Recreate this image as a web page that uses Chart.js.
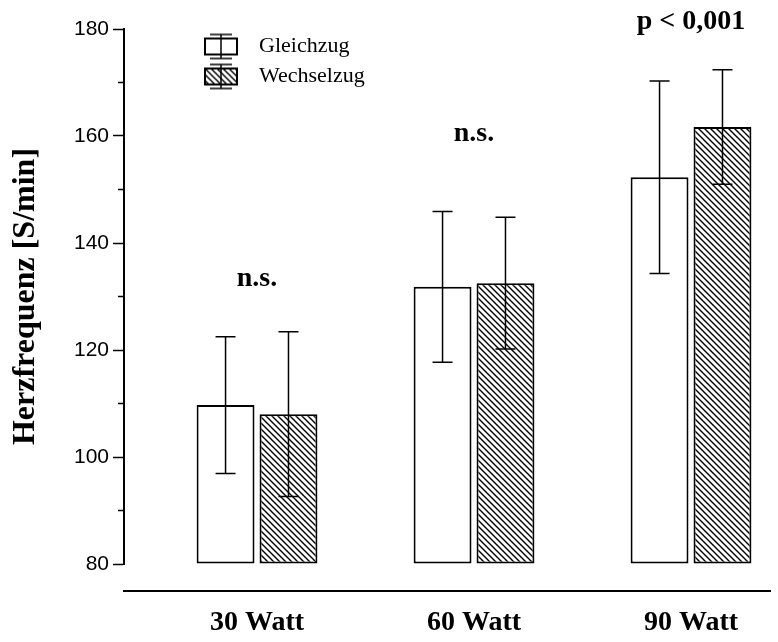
<!DOCTYPE html>
<html>
<head>
<meta charset="utf-8">
<script src="https://cdn.jsdelivr.net/npm/chart.js@4.4.1/dist/chart.umd.min.js"></script>
<style>
  html, body { margin: 0; padding: 0; background: #fff; }
</style>
</head>
<body>
<canvas id="hf" width="778" height="642"></canvas>
<script>
// --- data ---
const categories = ["30 Watt", "60 Watt", "90 Watt"];
const gleichMean = [109.7, 131.8, 152.3];
const gleichSd = [12.8, 14.1, 18.0];
const wechselMean = [108.0, 132.5, 161.7];
const wechselSd = [15.4, 12.3, 10.7];
const notes = ["n.s.", "n.s.", "p < 0,001"];
const noteLevels = [132, 159, 180]; // y value where each note sits
const yMin = 80, yMax = 180;

const serif = "'Liberation Serif', 'Times New Roman', serif";
const canvas = document.getElementById("hf");
const ctx = canvas.getContext("2d");

// diagonal hatch for Wechselzug
function hatch(g, size) {
  const c = document.createElement("canvas");
  c.width = c.height = size;
  const h = c.getContext("2d");
  h.fillStyle = "#fff";
  h.fillRect(0, 0, size, size);
  h.strokeStyle = "#000";
  h.lineWidth = 1.4;
  h.beginPath();
  for (const k of [-size, 0, size]) {
    h.moveTo(-1, -1 + k);
    h.lineTo(size + 1, size + 1 + k);
  }
  h.stroke();
  return g.createPattern(c, "repeat");
}

// legend symbol: box with an error bar through it
function legendIcon(hatched) {
  const c = document.createElement("canvas");
  c.width = 116;
  c.height = 30;
  const g = c.getContext("2d");
  const cx = 89, cy = 15;
  g.fillStyle = hatched ? hatch(g, 6) : "#fff";
  g.fillRect(cx - 16, cy - 8, 32, 16);
  g.strokeStyle = "#000";
  g.lineWidth = 2;
  g.strokeRect(cx - 16, cy - 8, 32, 16);
  g.lineWidth = 1.5;
  g.beginPath();
  g.moveTo(cx, cy - 12); g.lineTo(cx, cy + 12);
  g.moveTo(cx - 11, cy - 12); g.lineTo(cx + 11, cy - 12);
  g.moveTo(cx - 11, cy + 12); g.lineTo(cx + 11, cy + 12);
  g.stroke();
  return c;
}

const errorBars = {
  id: "errorBars",
  afterDatasetsDraw(chart) {
    const { ctx, scales: { y } } = chart;
    ctx.save();
    ctx.strokeStyle = "#000";
    ctx.lineWidth = 1.5;
    chart.data.datasets.forEach((ds, d) => {
      chart.getDatasetMeta(d).data.forEach((bar, i) => {
        const m = ds.data[i].y, s = ds.sd[i];
        const top = y.getPixelForValue(m + s);
        const bot = y.getPixelForValue(m - s);
        ctx.beginPath();
        ctx.moveTo(bar.x, top); ctx.lineTo(bar.x, bot);
        ctx.moveTo(bar.x - 10, top); ctx.lineTo(bar.x + 10, top);
        ctx.moveTo(bar.x - 10, bot); ctx.lineTo(bar.x + 10, bot);
        ctx.stroke();
      });
    });
    ctx.restore();
  }
};

const notesPlugin = {
  id: "notes",
  afterDraw(chart) {
    const { ctx, scales: { x, y } } = chart;
    ctx.save();
    ctx.font = "bold 28px " + serif;
    ctx.fillStyle = "#000";
    ctx.textAlign = "center";
    ctx.textBaseline = "alphabetic";
    notes.forEach((t, i) => {
      ctx.fillText(t, x.getPixelForValue(i), y.getPixelForValue(noteLevels[i]));
    });
    ctx.restore();
  }
};

new Chart(canvas, {
  type: "bar",
  data: {
    datasets: [
      {
        label: "Gleichzug",
        data: categories.map((c, i) => ({ x: i, y: gleichMean[i] })),
        sd: gleichSd,
        backgroundColor: "#fff",
        icon: legendIcon(false),
      },
      {
        label: "Wechselzug",
        data: categories.map((c, i) => ({ x: i, y: wechselMean[i] })),
        sd: wechselSd,
        backgroundColor: hatch(ctx, 6),
        icon: legendIcon(true),
      },
    ],
  },
  options: {
    responsive: false,
    animation: false,
    devicePixelRatio: 1,
    layout: { padding: { top: 29, right: 8, bottom: 0, left: 0 } },
    datasets: {
      bar: {
        base: yMin,
        categoryPercentage: 0.58,
        barPercentage: 0.92,
        borderWidth: 2,
        borderColor: "#000",
        borderSkipped: false,
        clip: false,
      },
    },
    scales: {
      x: {
        type: "linear",
        position: "bottom",
        weight: 1,
        offset: false,
        min: -0.613,
        max: 2.364,
        grid: { display: false, drawTicks: false, offset: false },
        border: { display: true, color: "#000", width: 2 },
        ticks: {
          stepSize: 1,
          includeBounds: false,
          autoSkip: false,
          maxRotation: 0,
          padding: 15,
          color: "#000",
          font: { family: serif, size: 28, weight: "bold" },
          callback: (v) => (Number.isInteger(v) ? categories[v] : ""),
        },
        afterFit: (s) => { s.height = 51; },
      },
      xpad: {
        type: "linear",
        axis: "x",
        position: "bottom",
        weight: 0,
        grid: { display: false, drawTicks: false },
        border: { display: false },
        ticks: { display: false },
        afterFit: (s) => { s.height = 27; },
      },
      y: {
        min: yMin,
        max: yMax,
        grid: {
          drawOnChartArea: false,
          tickLength: 11,
          tickColor: "#000",
          tickWidth: 1.5,
          tickBorderDash: (c) => (c.tick && c.tick.value % 20 ? [0, 5, 6, 40] : []),
        },
        border: { color: "#000", width: 2 },
        ticks: {
          stepSize: 10,
          autoSkip: false,
          padding: 4,
          color: "#000",
          font: { family: "'Liberation Sans', Arial, sans-serif", size: 21 },
          callback: (v) => (v % 20 === 0 ? v : ""),
        },
        title: {
          display: true,
          text: "Herzfrequenz [S/min]",
          color: "#000",
          font: { family: serif, size: 32, weight: "bold", lineHeight: 1 },
          padding: { top: 10, bottom: 0 },
        },
        afterFit: (s) => { s.width = 124; },
      },
    },
    plugins: {
      tooltip: { enabled: false },
      legend: {
        position: "chartArea",
        align: "start",
        title: { display: true, text: "", font: { size: 10, lineHeight: 1 }, padding: { top: 17.5, bottom: 0 } },
        labels: {
          usePointStyle: true,
          pointStyleWidth: 116,
          padding: 8,
          color: "#000",
          font: { family: serif, size: 22 },
          generateLabels: (chart) =>
            chart.data.datasets.map((ds, i) => ({
              text: ds.label,
              pointStyle: ds.icon,
              datasetIndex: i,
              fillStyle: "#fff",
              strokeStyle: "#000",
              lineWidth: 0,
              fontColor: "#000",
              hidden: false,
            })),
        },
      },
    },
  },
  plugins: [errorBars, notesPlugin],
});
</script>
</body>
</html>
